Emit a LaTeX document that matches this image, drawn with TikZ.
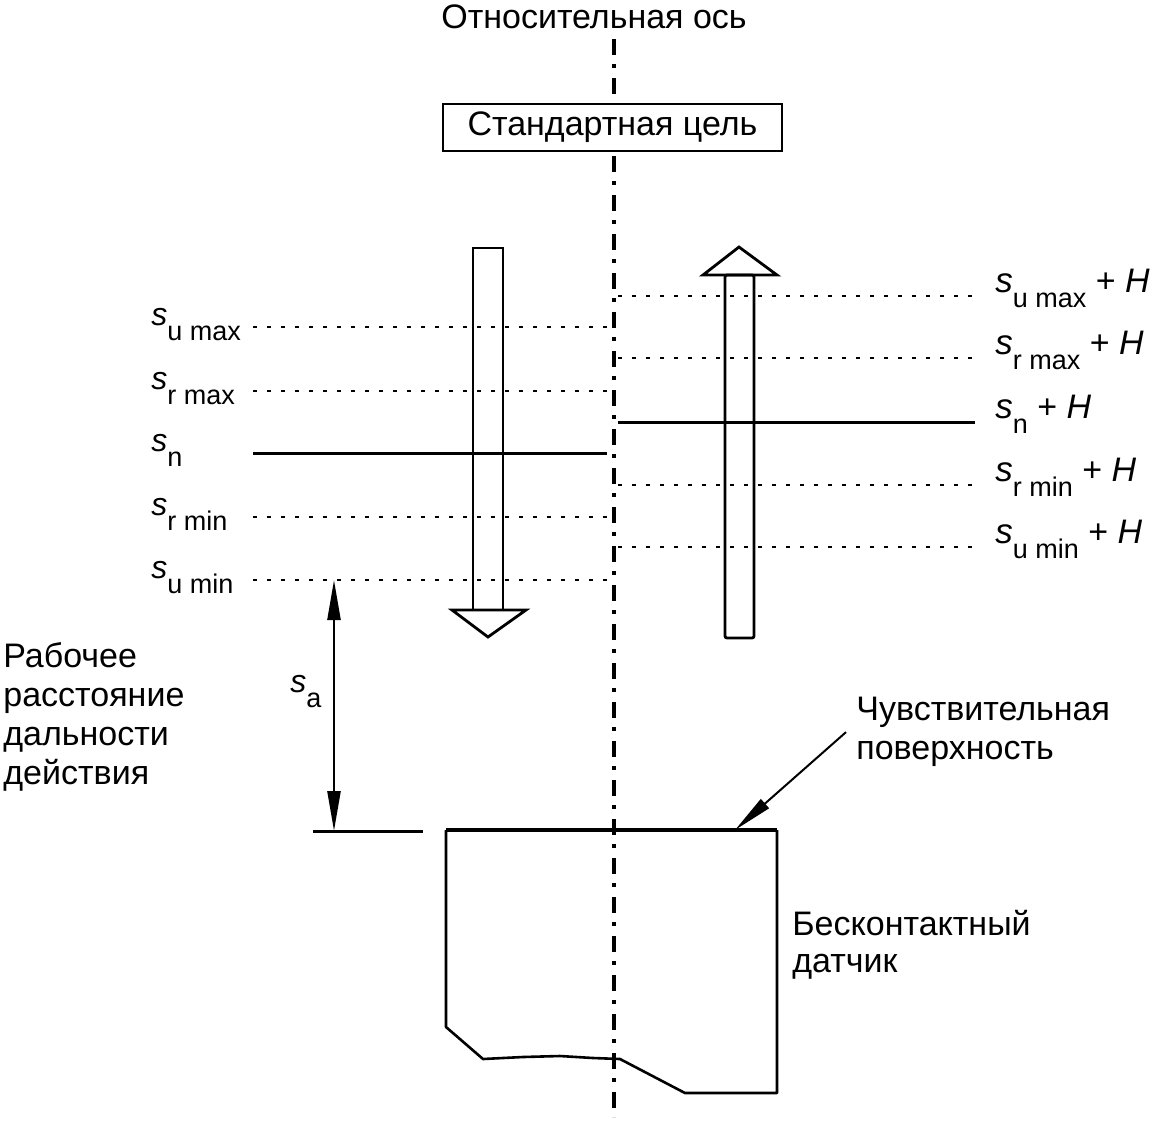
\documentclass[tikz,border=0pt]{standalone}
\usepackage{fontspec}
\setmainfont{Liberation Sans}
\usetikzlibrary{positioning, arrows.meta}

\tikzset{
  axisline/.style={line width=1.7pt, dash pattern=on 8pt off 4.5pt on 2pt off 5pt},
  levelline/.style={line width=0.8pt, dash pattern=on 2pt off 5pt},
  nomline/.style={line width=1.5pt},
  hollowarrow/.style={line width=1.4pt, line join=miter},
  lbl/.style={inner sep=0pt, font=\fontsize{17}{19.5}\selectfont},
  slbl/.style={inner sep=0pt, anchor=base west},
  dimtip/.style={line width=1.2pt, {Triangle[length=20pt,width=6.5pt]}-{Triangle[length=20pt,width=6.5pt]}},
}
\newcommand{\sv}[2][16]{{\fontsize{#1}{#1}\selectfont\itshape s}\raisebox{-7.5pt}{\fontsize{13.5}{13.5}\selectfont #2}}
\newcommand{\plusH}{{\fontsize{17}{17}\selectfont\ + \textit{H}}}

\begin{document}
\begin{tikzpicture}[x=0.5pt, y=-0.5pt]
  \useasboundingbox (0,0) rectangle (1156,1121);
  % 基準軸
  \draw[axisline] (614,39) -- (614,1117);
  \node[lbl, anchor=base] (axis) at (594,28) {Относительная ось};
  % 標準ターゲット
  \node[lbl, draw, line width=1pt, fill=white, minimum width=169.5pt, minimum height=23.5pt] (target) at (612.5,127.5) {Стандартная цель};
  % 下向き矢印
  \draw[hollowarrow] (473,248) rectangle (503,610);
  \draw[hollowarrow] (452,610) -- (526,610) -- (488,637) -- cycle;
  % 上向き矢印
  \draw[hollowarrow, rounded corners=1pt] (725,275) rectangle (754,638);
  \draw[hollowarrow] (703,275) -- (777,275) -- (739,247) -- cycle;
  % 左側のレベル
  \foreach \y/\sub/\nm in {327/u max/umax, 391/r max/rmax, 517/r min/rmin, 580/u min/umin}{
    \draw[levelline] (253,\y) -- (611,\y);
    \node[slbl] (sl-\nm) at (151,\y-2) {\sv{\sub}};
  }
  \draw[nomline] (253,453) -- (607,453);
  \node[slbl] (sl-n) at (151,451) {\sv{n}};
  % 右側のレベル (+H)
  \foreach \y/\sub/\nm in {296/u max/umax, 358/r max/rmax, 485/r min/rmin, 547/u min/umin}{
    \draw[levelline] (618,\y) -- (975,\y);
    \node[slbl] (sr-\nm) at (995,\y-4) {\sv[17.5]{\sub}\plusH};
  }
  \draw[nomline] (618,422) -- (975,422);
  \node[slbl] (sr-n) at (995,418) {\sv[17.5]{n}\plusH};
  % 動作距離
  \coordinate (satop) at (334,580);
  \coordinate (sabot) at (334,831);
  \draw[dimtip] (satop) -- (sabot);
  \draw[nomline] (313,831) -- (423,831);
  \node[slbl] (sa) at (290,692) {\sv{a}};
  \node[lbl, anchor=north west, align=left] (range) at (3,642) {Рабочее\\расстояние\\дальности\\действия};
  % センサー
  \draw[line width=1.3pt, line join=round] (446,830) -- (446,1027) -- (483,1059) -- (523,1057) -- (560,1056) -- (593,1058) -- (620,1059) -- (685,1093) -- (777,1093) -- (777,830);
  \draw[line width=2pt] (446,830) -- (777,830);
  \coordinate (surftip) at (735,830);
  \node[lbl, anchor=north west, align=left] (surf) at (856,697) {Чувствительная\\поверхность};
  \draw[line width=1pt, -{Triangle[length=20pt,width=6pt]}] ([xshift=-5pt]surf.west) -- (surftip);
  \node[lbl, anchor=north west, align=left, font=\fontsize{17}{18.5}\selectfont] (sensor) at (792,910) {Бесконтактный\\датчик};
\end{tikzpicture}
\end{document}
